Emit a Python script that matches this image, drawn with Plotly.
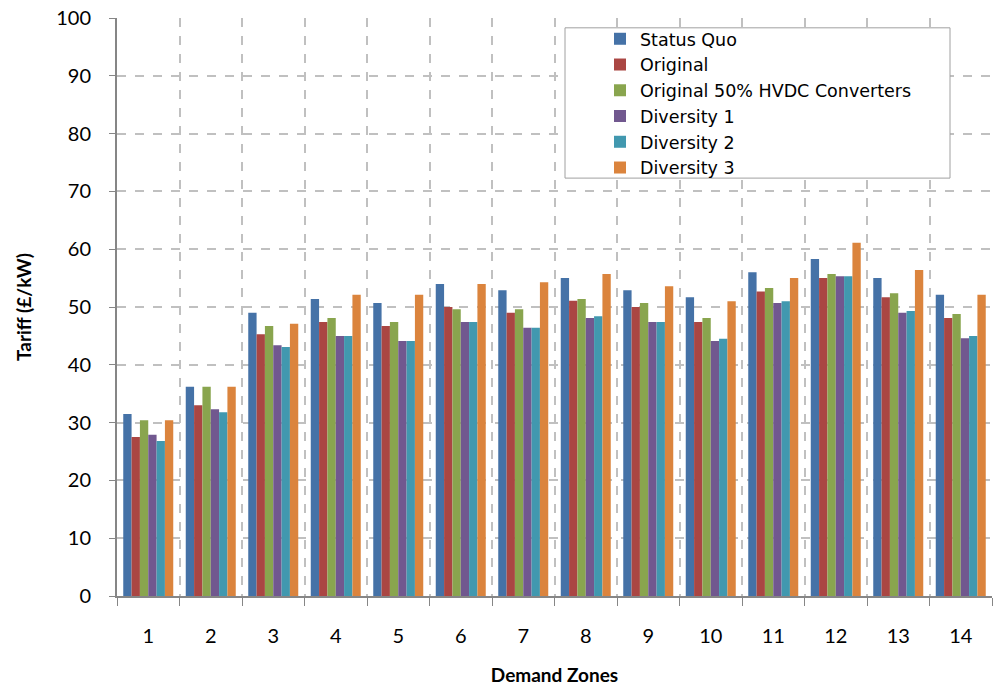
import plotly.graph_objects as go

zones = [str(i) for i in range(1, 15)]
series_names = ["Status Quo", "Original", "Original 50% HVDC Converters",
                "Diversity 1", "Diversity 2", "Diversity 3"]
status_quo = [31.5, 36.2, 49.0, 51.4, 50.7, 54.0, 52.9, 55.0, 52.9, 51.7, 56.0, 58.3, 55.0, 52.1]
original = [27.5, 33.0, 45.3, 47.4, 46.7, 50.0, 49.0, 51.1, 50.0, 47.4, 52.7, 55.0, 51.7, 48.1]
original_hvdc = [30.4, 36.2, 46.7, 48.1, 47.4, 49.6, 49.6, 51.4, 50.7, 48.1, 53.3, 55.7, 52.4, 48.8]
diversity1 = [27.9, 32.3, 43.4, 45.0, 44.1, 47.4, 46.4, 48.1, 47.4, 44.1, 50.7, 55.3, 49.0, 44.6]
diversity2 = [26.8, 31.8, 43.1, 45.0, 44.1, 47.4, 46.4, 48.4, 47.4, 44.5, 51.0, 55.3, 49.3, 45.0]
diversity3 = [30.4, 36.2, 47.1, 52.1, 52.1, 54.0, 54.3, 55.7, 53.6, 51.0, 55.0, 61.1, 56.4, 52.1]
y_ticks = [0, 10, 20, 30, 40, 50, 60, 70, 80, 90, 100]

colors = ["#4572A7", "#AA4643", "#89A54E", "#71588F", "#4198AF", "#DB843D"]
data = [status_quo, original, original_hvdc, diversity1, diversity2, diversity3]

fig = go.Figure()
for name, vals, c in zip(series_names, data, colors):
    fig.add_trace(go.Bar(x=zones, y=vals, name=name, marker_color=c,
                         marker_line_width=0))

font = "Lato, 'Open Sans', sans-serif"
fig.update_layout(
    width=994, height=689,
    margin=dict(l=117, r=2, t=18, b=93),
    plot_bgcolor="white", paper_bgcolor="white",
    barmode="group", bargap=0.2, bargroupgap=0,
    font=dict(family=font, size=20, color="black"),
    legend=dict(x=0.552, y=0.995, xanchor="left", yanchor="top",
                borderwidth=0, bgcolor="rgba(0,0,0,0)",
                font=dict(size=17.5, family="'DejaVu Sans', sans-serif"),
                itemwidth=30, tracegroupgap=0, traceorder="normal"),
    xaxis=dict(type="category", range=[-0.5, 13.5], automargin=False,
               tickson="boundaries", ticks="outside", ticklen=8,
               tickcolor="#868686", showline=True, linecolor="#868686", linewidth=2,
               showgrid=True, gridcolor="#c0c0c0", griddash="dash", gridwidth=2,
               ticklabelstandoff=21,
               title=dict(text="<b>Demand Zones</b>", font=dict(size=19), standoff=23),
               tickfont=dict(size=20)),
    yaxis=dict(range=[0, 100], automargin=False, tickvals=y_ticks, ticks="outside",
               ticklen=6, ticklabelstandoff=14,
               tickcolor="#868686", showline=True, linecolor="#868686", linewidth=2,
               showgrid=True, gridcolor="#c0c0c0", griddash="dash", gridwidth=2,
               zeroline=False,
               title=dict(text="<b>Tariff (£/kW)</b>", font=dict(size=19), standoff=20),
               tickfont=dict(size=20)),
    shapes=[dict(type="rect", xref="paper", yref="paper",
                 x0=0.512, x1=0.952, y0=0.723, y1=0.983,
                 line=dict(color="#a0a0a0", width=1), fillcolor="white",
                 layer="above")],
)

fig.write_html("out.html", config={"displayModeBar": False},
               post_script="document.body.style.margin='0px';document.body.style.padding='0px';")
